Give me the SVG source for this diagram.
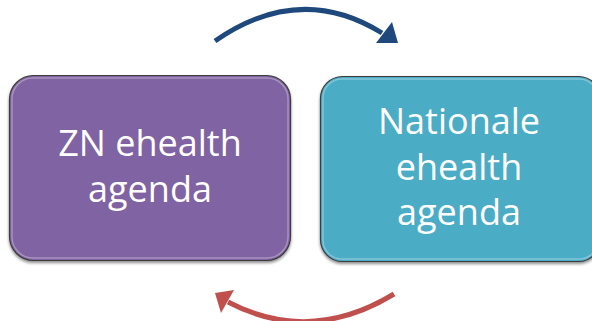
<svg xmlns="http://www.w3.org/2000/svg" width="592" height="321" viewBox="0 0 592 321">
  <style>
    .box { stroke: #3c3c3c; stroke-width: 1.2; }
    .bevel { fill: none; stroke: #ffffff; stroke-opacity: 0.3; stroke-width: 1.5; }
    .label { font-family: "Open Sans", "Liberation Sans", sans-serif; font-size: 36px; fill: #ffffff; text-anchor: middle; }
    .arrow { fill: none; stroke-width: 5; }
  </style>
  <defs>
    <filter id="shadow" x="-10%" y="-10%" width="120%" height="125%">
      <feGaussianBlur in="SourceAlpha" stdDeviation="1.5"/>
      <feOffset dx="0" dy="2" result="b"/>
      <feComponentTransfer><feFuncA type="linear" slope="0.45"/></feComponentTransfer>
      <feMerge><feMergeNode/><feMergeNode in="SourceGraphic"/></feMerge>
    </filter>
  </defs>

  <g id="zn-agenda">
    <rect class="box" x="9.5" y="75.5" width="281" height="185" rx="24" ry="24" fill="#8064a2" filter="url(#shadow)"/>
    <rect class="bevel" x="12" y="78" width="276" height="180" rx="21" ry="21"/>
    <text class="label" x="150" y="156">ZN ehealth</text>
    <text class="label" x="150" y="202">agenda</text>
  </g>

  <g id="nationale-agenda">
    <rect class="box" x="320.5" y="76.5" width="280" height="185" rx="22" ry="22" fill="#4bacc6" filter="url(#shadow)"/>
    <rect class="bevel" x="323" y="79" width="275" height="180" rx="19" ry="19"/>
    <text class="label" x="459" y="134">Nationale</text>
    <text class="label" x="459" y="180">ehealth</text>
    <text class="label" x="459" y="225">agenda</text>
  </g>

  <g id="connectors">
    <path class="arrow" stroke="#1f497d" d="M215,41 Q300,-18 382,33"/>
    <polygon fill="#1f497d" points="392,22 398,43 376,43"/>
    <path class="arrow" stroke="#c0504d" d="M394,294 Q310,345 228,302"/>
    <polygon fill="#c0504d" points="234,290 215,293 221,313"/>
  </g>
</svg>
